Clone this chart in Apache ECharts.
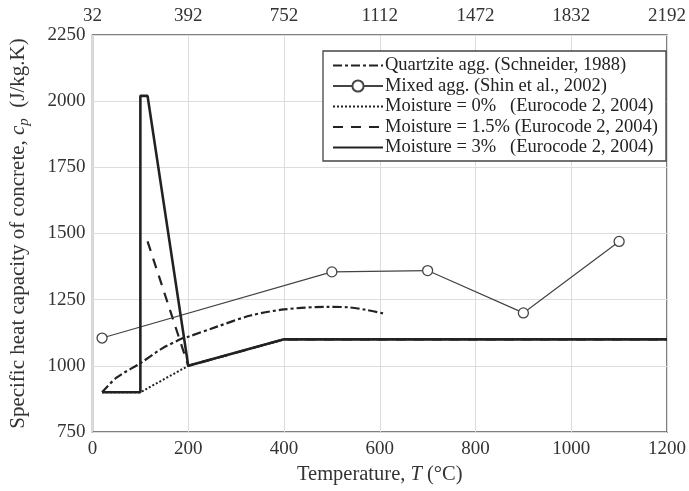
<!DOCTYPE html>
<html><head><meta charset="utf-8">
<script src="https://cdn.jsdelivr.net/npm/echarts@6/dist/echarts.min.js"></script>
<style>html,body{margin:0;padding:0;background:#fff}#c{width:689px;height:491px}</style>
</head><body><div id="c"></div>
<script>
// Data
const xTicksC = [0, 200, 400, 600, 800, 1000, 1200];
const topTickLabelsF = ['32', '392', '752', '1112', '1472', '1832', '2192'];
const yTicks = [750, 1000, 1250, 1500, 1750, 2000, 2250];

const schneiderT = [20, 50, 100, 145, 188, 200, 260, 330, 400, 490, 535, 570, 608];
const schneiderCp = [900, 955, 1010, 1065, 1104, 1110, 1148, 1190, 1213, 1223, 1221, 1212, 1198];

const shinT = [20, 500, 700, 900, 1100];
const shinCp = [1105, 1355, 1360, 1200, 1470];

const ec0T = [20, 100, 200, 400, 1200];
const ec0Cp = [900, 900, 1000, 1100, 1100];

const ec15T = [115, 200, 400, 1200];
const ec15Cp = [1470, 1000, 1100, 1100];

const ec3T = [20, 100, 100, 115, 200, 400, 1200];
const ec3Cp = [900, 900, 2020, 2020, 1000, 1100, 1100];

const names = [
  'Quartzite agg. (Schneider, 1988)',
  'Mixed agg. (Shin et al., 2002)',
  'Moisture = 0%   (Eurocode 2, 2004)',
  'Moisture = 1.5% (Eurocode 2, 2004)',
  'Moisture = 3%   (Eurocode 2, 2004)'
];

const zip = (a, b) => a.map((v, i) => [v, b[i]]);
const FONT = '"Liberation Serif", "DejaVu Serif", serif';
const INK = '#222';
const TXT = '#333';

const chart = echarts.init(document.getElementById('c'), null, {renderer: 'canvas'});
chart.setOption({
  animation: false,
  backgroundColor: '#fff',
  grid: {left: 87, right: 20, top: 35, bottom: 59, show: true, borderColor: '#555', borderWidth: 1.5, containLabel: false},
  legend: {
    orient: 'vertical', left: 323, top: 51,
    itemWidth: 50, itemHeight: 14, itemGap: 1.5,
    padding: [5, 8, 4, 9],
    borderColor: '#444', borderWidth: 1.3, backgroundColor: '#fff',
    textStyle: {fontFamily: FONT, fontSize: 18.5, lineHeight: 18, color: INK, padding: [0, 0, 0, -3]},
    data: names.map((n, i) => i === 1
      ? {name: n}
      : {name: n, itemStyle: {opacity: 0}})
  },
  xAxis: [{
    type: 'value', min: 0, max: 1200, interval: 200, position: 'bottom',
    name: '{n|Temperature, }{i|T}{n| (°C)}', nameLocation: 'middle', nameGap: 20,
    nameTextStyle: {rich: {n: {fontFamily: FONT, fontSize: 20.5, color: TXT}, i: {fontFamily: FONT, fontSize: 20.5, fontStyle: 'italic', color: TXT}}},
    axisLine: {show: false}, axisTick: {show: false},
    axisLabel: {fontFamily: FONT, fontSize: 19, color: TXT, margin: 8, formatter: v => String(v)},
    splitLine: {show: true, lineStyle: {color: '#ddd', width: 1}}
  }, {
    type: 'value', min: 0, max: 1200, interval: 200, position: 'top',
    axisLine: {show: false}, axisTick: {show: false},
    axisLabel: {fontFamily: FONT, fontSize: 19, color: TXT, margin: 9,
      formatter: v => topTickLabelsF[xTicksC.indexOf(v)]},
    splitLine: {show: false}
  }],
  yAxis: {
    type: 'value', min: 750, max: 2250, interval: 250,
    name: '{n|Specific heat capacity of concrete, }{i|c}{s|p}{n|  (J/kg.K)}', nameLocation: 'middle', nameGap: 61, nameRotate: 90,
    nameTextStyle: {rich: {
      n: {fontFamily: FONT, fontSize: 21, color: TXT},
      i: {fontFamily: FONT, fontSize: 21, fontStyle: 'italic', color: TXT},
      s: {fontFamily: FONT, fontSize: 15, fontStyle: 'italic', color: TXT, verticalAlign: 'bottom', padding: [11, 0, 0, 0]}
    }},
    axisLine: {show: false}, axisTick: {show: false},
    axisLabel: {fontFamily: FONT, fontSize: 19, color: TXT, margin: 7,
      formatter: v => yTicks.includes(v) ? String(v) : ''},
    splitLine: {show: true, lineStyle: {color: '#ddd', width: 1}}
  },
  series: [
    {name: names[0], type: 'line', data: zip(schneiderT, schneiderCp), smooth: 0.3, symbol: 'none',
      lineStyle: {color: INK, width: 2.2, type: [9, 3, 3, 3]}, itemStyle: {color: INK}, z: 3},
    {name: names[1], type: 'line', data: zip(shinT, shinCp), symbol: 'circle', symbolSize: 10,
      lineStyle: {color: '#444', width: 1.2}, itemStyle: {color: '#fff', borderColor: '#444', borderWidth: 1.3}, z: 4},
    {name: names[2], type: 'line', data: zip(ec0T, ec0Cp), symbol: 'none',
      lineStyle: {color: INK, width: 2, type: [2, 2]}, itemStyle: {color: INK}, z: 2},
    {name: names[3], type: 'line', data: zip(ec15T, ec15Cp), symbol: 'none',
      lineStyle: {color: INK, width: 2.2, type: [10, 8]}, itemStyle: {color: INK}, z: 2},
    {name: names[4], type: 'line', data: zip(ec3T, ec3Cp), symbol: 'none',
      lineStyle: {color: INK, width: 2.6}, itemStyle: {color: INK}, z: 5}
  ]
});
</script></body></html>
